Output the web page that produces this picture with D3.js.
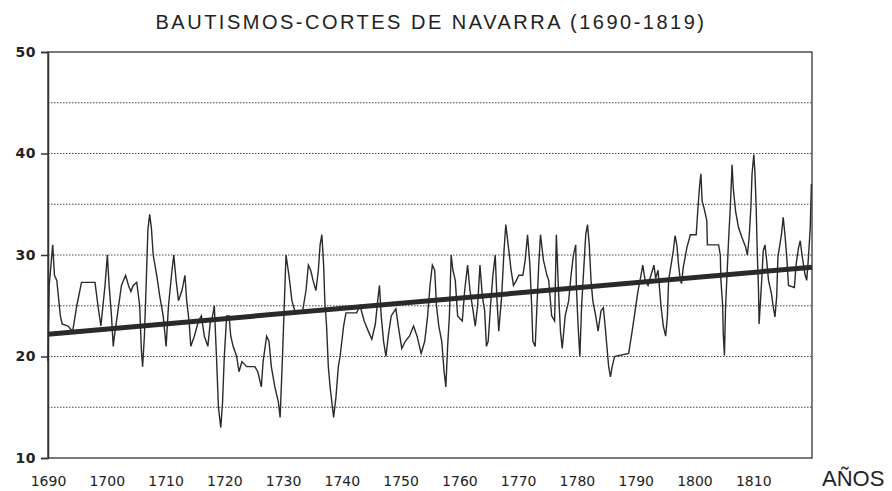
<!DOCTYPE html>
<html>
<head>
<meta charset="utf-8">
<script src="https://cdn.jsdelivr.net/npm/d3@7"></script>
<style>
  body { margin: 0; background: #fff; }
  svg { display: block; }
</style>
</head>
<body>
<div id="chart"></div>
<script>

// years (fractional where the line changes inside a year)
var years = [
  1690.0, 1690.2, 1690.8, 1691.1, 1691.5, 1692.1, 1692.4, 1693.4, 1694.2, 1694.9,
  1695.7, 1698.0, 1698.5, 1699.0, 1699.7, 1700.1, 1700.4, 1700.8, 1701.1, 1701.3,
  1701.9, 1702.5, 1703.2, 1703.7, 1704.1, 1704.5, 1705.1, 1705.6, 1705.9, 1706.1,
  1706.4, 1706.7, 1707.0, 1707.3, 1707.6, 1707.9, 1708.5, 1709.0, 1709.6, 1710.1,
  1710.5, 1711.1, 1711.4, 1711.8, 1712.2, 1712.8, 1713.3, 1713.6, 1714.0, 1714.3,
  1714.9, 1715.6, 1716.1, 1716.6, 1717.2, 1717.6, 1718.0, 1718.3, 1718.7, 1719.0,
  1719.4, 1719.7, 1720.0, 1720.4, 1720.8, 1721.1, 1721.5, 1722.1, 1722.5, 1723.0,
  1723.8, 1725.2, 1725.7, 1726.3, 1726.6, 1727.2, 1727.6, 1728.0, 1728.6, 1729.2,
  1729.5, 1729.9, 1730.2, 1730.5, 1731.0, 1731.5, 1732.1, 1733.3, 1733.9, 1734.3,
  1734.7, 1735.1, 1735.6, 1736.0, 1736.3, 1736.6, 1736.9, 1737.1, 1737.4, 1737.7,
  1738.0, 1738.3, 1738.6, 1739.0, 1739.4, 1739.7, 1740.0, 1740.3, 1740.7, 1742.5,
  1743.1, 1743.8, 1744.5, 1745.1, 1745.7, 1746.1, 1746.4, 1746.7, 1747.1, 1747.5,
  1747.9, 1748.4, 1749.2, 1749.6, 1750.2, 1750.8, 1751.5, 1752.2, 1752.8, 1753.5,
  1754.1, 1754.6, 1755.0, 1755.4, 1755.8, 1756.1, 1756.5, 1757.0, 1757.4, 1757.7,
  1758.0, 1758.3, 1758.6, 1758.9, 1759.3, 1759.7, 1760.0, 1760.5, 1760.9, 1761.4,
  1761.8, 1762.2, 1762.7, 1763.1, 1763.5, 1763.9, 1764.3, 1764.6, 1764.9, 1765.3,
  1765.7, 1766.1, 1766.4, 1766.7, 1767.2, 1767.6, 1767.9, 1768.4, 1768.8, 1769.2,
  1769.7, 1770.1, 1770.8, 1771.2, 1771.6, 1772.0, 1772.3, 1772.5, 1772.9, 1773.2,
  1773.5, 1773.8, 1774.3, 1774.9, 1775.2, 1775.7, 1776.2, 1776.5, 1776.7, 1776.9,
  1777.2, 1777.5, 1778.0, 1778.6, 1779.0, 1779.4, 1779.8, 1779.9, 1780.2, 1780.5,
  1780.8, 1781.2, 1781.5, 1781.8, 1782.1, 1782.4, 1782.7, 1783.2, 1783.6, 1784.1,
  1784.5, 1784.8, 1785.1, 1785.4, 1785.7, 1786.0, 1786.4, 1788.8, 1789.4, 1789.9,
  1790.4, 1790.9, 1791.2, 1791.6, 1792.1, 1792.6, 1793.1, 1793.4, 1793.8, 1794.3,
  1794.7, 1795.1, 1795.4, 1795.6, 1796.4, 1796.7, 1797.0, 1797.3, 1797.6, 1797.8,
  1798.1, 1798.7, 1799.3, 1800.3, 1800.6, 1800.9, 1801.1, 1801.3, 1801.6, 1802.1,
  1802.2, 1804.1, 1804.4, 1804.5, 1804.8, 1804.9, 1805.1, 1805.3, 1805.8, 1806.1,
  1806.4, 1806.6, 1807.0, 1807.5, 1808.1, 1808.7, 1809.0, 1809.3, 1809.6, 1809.8,
  1810.1, 1810.3, 1810.5, 1810.7, 1810.9, 1811.0, 1811.5, 1811.7, 1812.0, 1812.3,
  1812.6, 1813.1, 1813.4, 1813.7, 1814.0, 1814.2, 1814.8, 1815.1, 1815.4, 1815.7,
  1816.0, 1817.0, 1817.3, 1817.7, 1818.0, 1818.3, 1818.8, 1819.1, 1819.4, 1819.7,
  1819.9
];

var bautismos = [
  19.5, 27, 31, 28, 27.5, 24, 23.2, 23, 22.5, 25,
  27.3, 27.3, 25, 23, 27, 30, 27, 24, 21, 22,
  24.5, 27, 28, 27, 26.4, 27, 27.3, 25, 20.5, 19,
  22, 27, 32.5, 34, 32.6, 30, 28, 26, 24, 21,
  25, 28.5, 30, 27.5, 25.5, 26.5, 28, 25.5, 23.5, 21,
  22, 23.5, 24, 22, 21, 23.3, 24, 25, 19.5, 15,
  13, 15.5, 20, 24, 24, 22, 21, 20, 18.5, 19.5,
  19, 19, 18.5, 17, 19.5, 22, 21.5, 19, 17, 15.5,
  14, 20, 25, 30, 28, 25.5, 24.3, 24.4, 26.5, 29,
  28.5, 27.5, 26.5, 28.5, 31, 32, 29, 25.5, 23, 19,
  17, 15.5, 14, 16, 19, 20, 21.5, 23, 24.3, 24.3,
  25, 23.5, 22.5, 21.7, 23.2, 25.5, 27, 24, 21.5, 20,
  22, 24, 24.7, 23, 20.8, 21.5, 22, 23, 22, 20.3,
  21.5, 24, 27, 29, 28.5, 25, 23, 21.5, 18.5, 17,
  21, 24, 30, 28.5, 27.5, 24, 23.8, 23.5, 26.5, 29,
  26.5, 25, 23, 25, 29, 26, 24.5, 21, 21.5, 25,
  28, 30, 25.5, 22.5, 26, 30.5, 33, 30.5, 28.5, 27,
  27.5, 28, 28, 29.5, 32, 29, 25, 21.5, 21, 25,
  29, 32, 29.5, 28, 27.5, 24, 23.5, 32, 29, 26,
  22.5, 20.8, 24, 25.5, 28, 30, 31, 27, 23, 20,
  25, 29, 32, 33, 31, 27.5, 25.5, 24, 22.5, 24.5,
  24.8, 23, 21, 19, 18, 19, 20, 20.3, 22.5, 24.5,
  26.5, 28, 29, 27.5, 27, 28, 29, 27.7, 28.5, 25,
  23, 22, 24, 27.5, 30.4, 31.9, 31, 29, 27.5, 27.2,
  28.8, 30.7, 32, 32, 34.7, 37, 38, 35.3, 34.7, 33.4,
  31, 31, 30, 27.5, 25, 22.3, 20.1, 25, 31.4, 34.7,
  38.9, 36.6, 34.3, 32.7, 31.7, 30.8, 30, 31.7, 34.7, 38,
  39.9, 38, 34.7, 30, 26.5, 23.2, 28.1, 30.4, 31, 29.4,
  27.5, 26.2, 24.9, 23.9, 26, 29.8, 32, 33.7, 32, 29.8,
  27, 26.8, 29.1, 30.7, 31.4, 30, 28.1, 27.5, 29.8, 32.7,
  37
];

// linear trend (thick line), end points
var trendYears = [1690, 1820];
var trendValues = [22.2, 28.8];

var xTicks = [1690, 1700, 1710, 1720, 1730, 1740, 1750, 1760, 1770, 1780, 1790, 1800, 1810];
var yTicks = [10, 20, 30, 40, 50];
var gridValues = [15, 20, 25, 30, 35, 40, 45];

var titleText = "BAUTISMOS-CORTES DE NAVARRA (1690-1819)";
var xTitle = "AÑOS";

var width = 892, height = 491;
var margin = { top: 52, right: 80, bottom: 33, left: 48 };

var svg = d3.select("#chart").append("svg")
    .attr("width", width)
    .attr("height", height);

var x = d3.scaleLinear()
    .domain([1690, 1820])
    .range([margin.left, width - margin.right]);

var y = d3.scaleLinear()
    .domain([10, 50])
    .range([height - margin.bottom, margin.top]);

// title
svg.append("text")
    .attr("x", 431)
    .attr("y", 29)
    .attr("text-anchor", "middle")
    .style("font-family", "'Liberation Sans', Arial, sans-serif")
    .style("font-size", "20px")
    .style("letter-spacing", "2.5px")
    .style("fill", "#222")
    .text(titleText);

// dotted gridlines
svg.append("g")
    .selectAll("line")
    .data(gridValues)
    .enter()
    .append("line")
    .attr("x1", x(1690))
    .attr("x2", x(1820))
    .attr("y1", function(d) { return y(d); })
    .attr("y2", function(d) { return y(d); })
    .style("stroke", "#444")
    .style("stroke-width", 1)
    .style("stroke-dasharray", "1.5,1.5");

// frame (top, right, bottom)
svg.append("rect")
    .attr("x", x(1690))
    .attr("y", y(50))
    .attr("width", x(1820) - x(1690))
    .attr("height", y(10) - y(50))
    .style("fill", "none")
    .style("stroke", "#333")
    .style("stroke-width", 1.3);

// y axis
var yAxis = d3.axisLeft(y)
    .tickValues(yTicks)
    .tickSize(7)
    .tickPadding(5)
    .tickFormat(d3.format("d"));

var gy = svg.append("g")
    .attr("transform", "translate(" + x(1690) + ",0)")
    .call(yAxis);
gy.select(".domain").style("stroke", "#333").style("stroke-width", 1.5);
gy.selectAll(".tick line").style("stroke", "#333").style("stroke-width", 1.5);
gy.selectAll(".tick text")
    .style("font-family", "'DejaVu Sans', sans-serif")
    .style("font-weight", "bold")
    .style("font-size", "14px")
    .style("letter-spacing", "0.5px")
    .style("fill", "#222");

// x axis (labels only)
var xAxis = d3.axisBottom(x)
    .tickValues(xTicks)
    .tickSize(0)
    .tickPadding(18)
    .tickFormat(d3.format("d"));

var gx = svg.append("g")
    .attr("transform", "translate(0," + y(10) + ")")
    .call(xAxis);
gx.select(".domain").remove();
gx.selectAll(".tick text")
    .style("font-family", "'DejaVu Sans', sans-serif")
    .style("font-size", "14px")
    .style("fill", "#222");

svg.append("text")
    .attr("x", 822)
    .attr("y", 486)
    .attr("text-anchor", "start")
    .style("font-family", "'Liberation Sans', Arial, sans-serif")
    .style("font-size", "22px")
    .style("fill", "#222")
    .text(xTitle);

// series line
var line = d3.line()
    .x(function(d) { return x(d[0]); })
    .y(function(d) { return y(d[1]); });

var points = years.map(function(yr, i) { return [yr, bautismos[i]]; });

svg.append("path")
    .datum(points)
    .attr("d", line)
    .style("fill", "none")
    .style("stroke", "#2a2a2a")
    .style("stroke-width", 1.4)
    .style("stroke-linejoin", "miter");

// trend line
svg.append("path")
    .datum(trendYears.map(function(yr, i) { return [yr, trendValues[i]]; }))
    .attr("d", line)
    .style("fill", "none")
    .style("stroke", "#2a2a2a")
    .style("stroke-width", 5);

</script>
</body>
</html>
